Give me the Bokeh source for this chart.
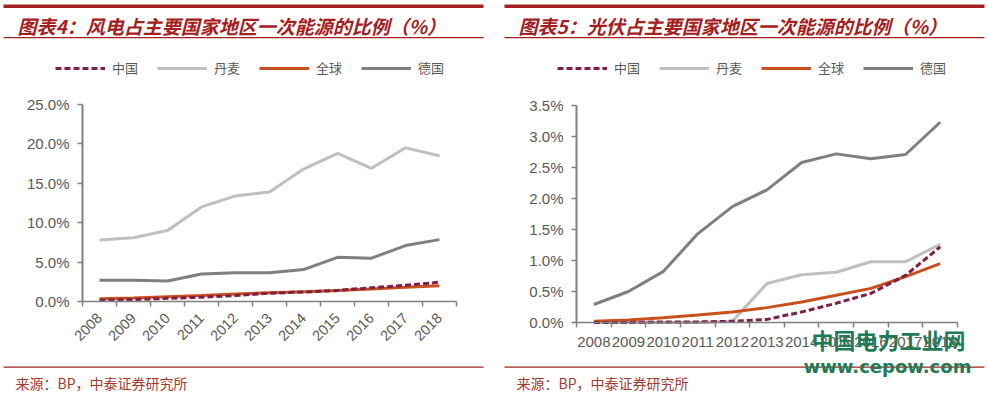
from math import pi
from bokeh.plotting import figure
from bokeh.models import (Range1d, FixedTicker, PrintfTickFormatter, Legend, LegendItem,
                          Label, BoxAnnotation)
from bokeh.layouts import row
from bokeh.embed import file_html
from bokeh.resources import INLINE

# ---------------- data ----------------
years = ["2008", "2009", "2010", "2011", "2012", "2013", "2014", "2015", "2016", "2017", "2018"]
series_names = ["中国", "丹麦", "全球", "德国"]

wind_china = [0.15, 0.25, 0.4, 0.55, 0.75, 1.05, 1.2, 1.4, 1.75, 2.05, 2.45]
wind_denmark = [7.8, 8.1, 9.0, 12.0, 13.4, 13.9, 16.8, 18.8, 16.9, 19.5, 18.5]
wind_global = [0.35, 0.45, 0.6, 0.75, 0.95, 1.1, 1.25, 1.4, 1.6, 1.8, 2.0]
wind_germany = [2.7, 2.7, 2.6, 3.5, 3.65, 3.65, 4.05, 5.6, 5.5, 7.1, 7.85]
wind_yticks = [0, 5, 10, 15, 20, 25]

solar_china = [0.0, 0.0, 0.01, 0.01, 0.02, 0.05, 0.17, 0.31, 0.47, 0.76, 1.22]
solar_denmark = [0.0, 0.0, 0.0, 0.0, 0.02, 0.63, 0.77, 0.81, 0.98, 0.98, 1.26]
solar_global = [0.02, 0.04, 0.075, 0.12, 0.17, 0.24, 0.33, 0.44, 0.55, 0.74, 0.95]
solar_germany = [0.29, 0.5, 0.82, 1.43, 1.87, 2.14, 2.58, 2.72, 2.64, 2.71, 3.23]
solar_yticks = [0, 0.5, 1.0, 1.5, 2.0, 2.5, 3.0, 3.5]

wind_title = "图表4：风电占主要国家地区一次能源的比例（%）"
solar_title = "图表5：光伏占主要国家地区一次能源的比例（%）"
source_text = "来源：BP，中泰证券研究所"
watermark_cn = "中国电力工业网"
watermark_url = "www.cepow.com"

# ---------------- style ----------------
CJK = "Noto Sans CJK SC"
LAT = "Liberation Sans"
RED = "#A3201E"
SRC_RED = "#A33A30"
GRAY_TXT = "#595959"
AXIS_GRAY = "#808080"
COLORS = {"中国": "#7E1F47", "丹麦": "#BFBFBF", "全球": "#C9501D", "德国": "#7F7F7F"}
DASH = {"中国": "6 3", "丹麦": "solid", "全球": "solid", "德国": "solid"}

W, H = 494, 394


def box(p, left, right, top, bottom, color):
    p.add_layout(BoxAnnotation(left=left, right=right, top=top, bottom=bottom,
                               left_units="canvas", right_units="canvas",
                               top_units="canvas", bottom_units="canvas",
                               fill_color=color, fill_alpha=1.0, line_color=None))


def text(p, x, y, s, font, size, color, style="normal", align="left"):
    p.add_layout(Label(x=x, y=y, x_units="canvas", y_units="canvas", text=s,
                       text_font=font, text_font_size=size, text_color=color,
                       text_font_style=style, text_align=align, text_baseline="middle"))


def panel(title, values, yticks, plot_box, rotate, x0, legend_x):
    # plot_box: pixel box of the plotting area inside the canvas (left, right, top, bottom)
    pl, pr, pt, pb = plot_box
    n = len(years)
    xs = list(range(n))
    cw = (pr - pl) / n
    ppu = (pb - pt) / (yticks[-1] - yticks[0])
    x_range = Range1d(-0.5 - pl / cw, -0.5 + (W - pl) / cw)
    y_range = Range1d(yticks[0] - (H - pb) / ppu, yticks[0] + pb / ppu)
    p = figure(width=W, height=H, output_backend="svg", toolbar_location=None,
               x_range=x_range, y_range=y_range,
               min_border=0, min_border_left=0, min_border_right=0,
               min_border_top=0, min_border_bottom=0,
               outline_line_color=None, background_fill_color="white",
               border_fill_color="white")
    p.xgrid.visible = False
    p.ygrid.visible = False

    xa = p.xaxis[0]
    xa.fixed_location = yticks[0]
    xa.bounds = (-0.5, n - 0.5)
    xa.ticker = FixedTicker(ticks=xs, minor_ticks=[i - 0.5 for i in range(n + 1)])
    xa.major_label_overrides = {i: y for i, y in enumerate(years)}
    xa.major_tick_out = 0
    xa.major_tick_in = 0
    xa.minor_tick_out = 5
    xa.minor_tick_in = 0
    xa.minor_tick_line_color = AXIS_GRAY
    xa.minor_tick_line_width = 1.5
    xa.axis_line_color = AXIS_GRAY
    xa.axis_line_width = 1.5
    xa.major_label_text_font = LAT
    xa.major_label_text_color = GRAY_TXT
    if rotate:
        xa.major_label_orientation = pi / 4
        xa.major_label_text_font_size = "14.5px"
        xa.major_label_standoff = 9
    else:
        xa.major_label_text_font_size = "15px"
        xa.major_label_standoff = 9

    ya = p.yaxis[0]
    ya.fixed_location = -0.5
    ya.bounds = (yticks[0], yticks[-1])
    ya.ticker = FixedTicker(ticks=yticks)
    ya.formatter = PrintfTickFormatter(format="%.1f%%")
    ya.major_tick_out = 5
    ya.major_tick_in = 0
    ya.minor_tick_out = 0
    ya.minor_tick_in = 0
    ya.major_tick_line_color = AXIS_GRAY
    ya.major_tick_line_width = 1.5
    ya.axis_line_color = AXIS_GRAY
    ya.axis_line_width = 2
    ya.major_label_text_font = LAT
    ya.major_label_text_font_size = "15px"
    ya.major_label_text_color = GRAY_TXT
    ya.major_label_standoff = 8

    rends = {}
    for name in ["丹麦", "德国", "全球", "中国"]:
        rends[name] = p.line(xs, values[name], line_color=COLORS[name], line_width=3,
                             line_dash=DASH[name])

    legend = Legend(items=[LegendItem(label=nm, renderers=[rends[nm]]) for nm in series_names],
                    orientation="horizontal", location=(legend_x, H - 77),
                    glyph_width=50, glyph_height=16, label_height=16, label_width=26,
                    label_standoff=7, spacing=19, padding=0, margin=0,
                    border_line_color=None, background_fill_alpha=0,
                    label_text_font=CJK, label_text_font_size="13px",
                    label_text_color=GRAY_TXT)
    p.add_layout(legend)

    # header rules and title
    box(p, x0, x0 + 480, 4, 7.5, RED)
    text(p, x0 + 14, 25, title, CJK, "19px", RED, style="bold italic")
    box(p, x0, x0 + 480, 36.6, 37.8, RED)
    # footer
    box(p, x0, x0 + 480, 366, 367.3, RED)
    text(p, x0 + 12, 382, source_text, CJK, "14px", SRC_RED)
    return p


p1 = panel(wind_title,
           {"中国": wind_china, "丹麦": wind_denmark, "全球": wind_global, "德国": wind_germany},
           wind_yticks, (82, 456, 104, 301), True, 3, 55)
p2 = panel(solar_title,
           {"中国": solar_china, "丹麦": solar_denmark, "全球": solar_global, "德国": solar_germany},
           solar_yticks, (82, 463, 105, 322), False, 10, 63)

# watermark
text(p2, 394, 338, watermark_cn, CJK, "22px", "#1F7A58", style="bold", align="center")
text(p2, 393, 366, watermark_url, "DejaVu Sans", "18px", "#1F7A58", style="bold", align="center")

layout = row(p1, p2)
open("out.html", "w").write(file_html(layout, INLINE))
